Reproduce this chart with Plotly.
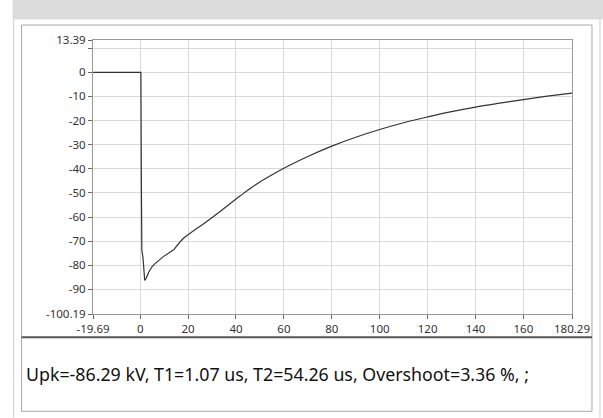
import plotly.graph_objects as go

# ---- data ----
time_us = [-19.69, -15.0, -10.0, -5.0, 0.0, 0.3, 0.5, 0.7, 1.2, 1.9, 2.6, 3.5, 5.0, 6.1, 9.8,
           13.3, 14.0, 18.2, 22.0, 26.5, 33.5, 41.8, 48.7, 60.0, 70.0, 80.0, 90.0, 100.0,
           110.0, 120.0, 130.0, 140.0, 150.0, 160.0, 170.0, 180.29]
voltage_kv = [0.0, 0.0, 0.0, 0.0, 0.0, 0.0, -45.0, -73.6, -77.0, -86.3, -85.3, -83.0, -80.5, -79.4, -76.3,
              -74.2, -73.6, -68.7, -65.9, -62.8, -57.6, -51.2, -46.3, -39.8, -34.9, -30.6, -26.9, -23.7,
              -20.9, -18.5, -16.3, -14.4, -12.8, -11.3, -9.9, -8.6]

x_tickvals = [-19.69, 0, 20, 40, 60, 80, 100, 120, 140, 160, 180.29]
x_ticktext = ["-19.69", "0", "20", "40", "60", "80", "100", "120", "140", "160", "180.29"]
y_tickvals = [13.39, 10, 0, -10, -20, -30, -40, -50, -60, -70, -80, -90, -100.19]
y_ticktext = ["13.39", "", "0", "-10", "-20", "-30", "-40", "-50", "-60", "-70", "-80", "-90", "-100.19"]
x_range = [-19.69, 180.29]
y_range = [-100.19, 13.39]

result_text = "Upk=-86.29 kV, T1=1.07 us, T2=54.26 us, Overshoot=3.36 %, ;"

# ---- layout geometry (pixels) ----
W, H = 603, 418
PL, PR, PT, PB = 92.5, 572.0, 40.0, 314.3


def px(xp):
    return (xp - PL) / (PR - PL)


def py(yp):
    return (PB - yp) / (PB - PT)


# split into the sharp front (linear) and the smooth tail (spline)
split = time_us.index(14.0)
fig = go.Figure()
fig.add_trace(go.Scatter(x=time_us[:split + 1], y=voltage_kv[:split + 1], mode="lines",
                         line=dict(color="#333333", width=1.2), hoverinfo="skip",
                         showlegend=False))
fig.add_trace(go.Scatter(x=time_us[split:], y=voltage_kv[split:], mode="lines",
                         line=dict(color="#333333", width=1.2, shape="spline", smoothing=1.0),
                         hoverinfo="skip", showlegend=False))

shapes = [
    dict(type="rect", xref="paper", yref="paper", x0=px(12), x1=px(603), y0=py(0), y1=py(19.5),
         fillcolor="#dcdcdc", line=dict(width=0), layer="below"),
    dict(type="line", xref="paper", yref="paper", x0=px(13), x1=px(13), y0=py(19.5), y1=py(418),
         line=dict(color="#cfcfcf", width=1)),
    dict(type="line", xref="paper", yref="paper", x0=px(600), x1=px(600), y0=py(19.5), y1=py(418),
         line=dict(color="#cfcfcf", width=1)),
    dict(type="rect", xref="paper", yref="paper", x0=px(21), x1=px(592), y0=py(25), y1=py(411.7),
         line=dict(color="#a8a8a8", width=1), fillcolor="rgba(0,0,0,0)"),
    dict(type="line", xref="paper", yref="paper", x0=px(21), x1=px(592), y0=py(337.7), y1=py(337.7),
         line=dict(color="#555555", width=2)),
]

fig.update_layout(
    width=W, height=H,
    margin=dict(l=PL, r=W - PR, t=PT, b=H - PB, pad=0),
    paper_bgcolor="white", plot_bgcolor="white",
    shapes=shapes,
    annotations=[dict(text=result_text, xref="paper", yref="paper", x=px(23), y=py(374),
                      xanchor="left", yanchor="middle", showarrow=False,
                      font=dict(family="Noto Sans", size=17.8, color="#111111"))],
    xaxis=dict(range=x_range, tickvals=x_tickvals, ticktext=x_ticktext,
               showgrid=True, gridcolor="#d9d9d9", gridwidth=1,
               showline=True, linecolor="#999999", linewidth=1, mirror=True,
               ticks="outside", ticklen=4, tickcolor="#666666",
               tickfont=dict(family="Noto Sans", size=11.5, color="#333333"),
               zeroline=False),
    yaxis=dict(range=y_range, tickvals=y_tickvals, ticktext=y_ticktext,
               showgrid=True, gridcolor="#d9d9d9", gridwidth=1,
               showline=True, linecolor="#999999", linewidth=1, mirror=True,
               ticks="outside", ticklen=4, tickcolor="#666666",
               tickfont=dict(family="Noto Sans", size=11.5, color="#333333"),
               zeroline=False),
)

fig.write_html("out.html")
